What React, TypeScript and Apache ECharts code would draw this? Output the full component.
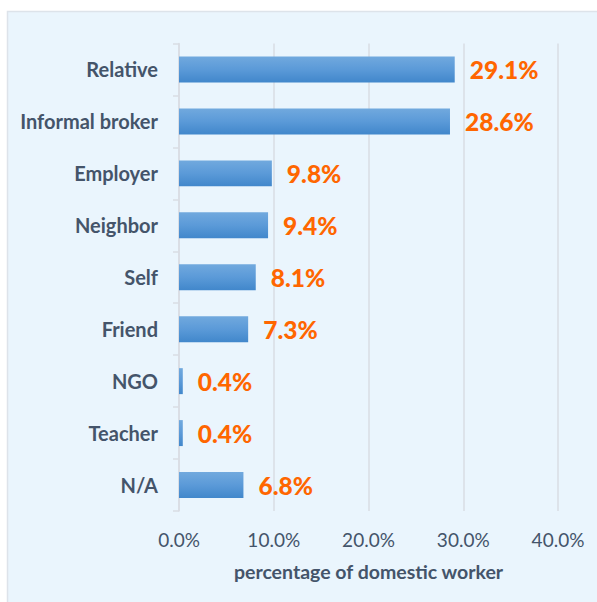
import React, { useEffect, useRef } from "react";
import * as echarts from "echarts";

const categories = ["Relative", "Informal broker", "Employer", "Neighbor", "Self", "Friend", "NGO", "Teacher", "N/A"];
const values = [29.1, 28.6, 9.8, 9.4, 8.1, 7.3, 0.4, 0.4, 6.8];
const axisName = "percentage of domestic worker";

const FONT = "Lato, 'DejaVu Sans', sans-serif";
const TEXT = "#44546a";

export default function App() {
  const ref = useRef<HTMLDivElement>(null);
  useEffect(() => {
    if (!ref.current) return;
    const chart = echarts.init(ref.current, null, { renderer: "svg" });
    chart.setOption({
      animation: false,
      backgroundColor: "#ffffff",
      graphic: [
        {
          type: "rect",
          z: -10,
          silent: true,
          shape: { x: 7.5, y: 11.5, width: 620, height: 620 },
          style: { fill: "#eaf5fd", stroke: "#dde3ea", lineWidth: 1.5 },
        },
      ],
      grid: { left: 179, right: 39, top: 43.5, bottom: 91, containLabel: false },
      xAxis: {
        type: "value",
        min: 0,
        max: 40,
        interval: 10,
        name: axisName,
        nameLocation: "middle",
        nameGap: 50,
        nameTextStyle: { color: TEXT, fontFamily: FONT, fontSize: 19.5, fontWeight: "bold" },
        axisLine: { show: false },
        axisTick: { show: false },
        axisLabel: {
          color: TEXT,
          fontFamily: FONT,
          fontSize: 19,
          margin: 19,
          formatter: (v: number) => v.toFixed(1) + "%",
        },
        splitLine: { show: true, lineStyle: { color: "#d9dde3", width: 1.5 } },
      },
      yAxis: {
        type: "category",
        data: categories,
        inverse: true,
        axisLine: { show: true, lineStyle: { color: "#d9dde3", width: 1.5 } },
        axisTick: { show: true, length: 6, lineStyle: { color: "#d9dde3", width: 1.5 } },
        axisLabel: {
          color: TEXT,
          fontFamily: FONT,
          fontSize: 20,
          fontWeight: "bold",
          margin: 21,
        },
      },
      series: [
        {
          type: "bar",
          data: values,
          barWidth: "50%",
          itemStyle: {
            color: new echarts.graphic.LinearGradient(0, 0, 0, 1, [
              { offset: 0, color: "#71a9de" },
              { offset: 0.5, color: "#5b9ad8" },
              { offset: 1, color: "#4187cb" },
            ]),
          },
          label: {
            show: true,
            position: "right",
            distance: 15,
            color: "#ff6600",
            fontFamily: FONT,
            fontSize: 24.5,
            fontWeight: 900,
            formatter: (p: any) => Number(p.value).toFixed(1) + "%",
          },
        },
      ],
    });
    return () => chart.dispose();
  }, []);
  return (
    <div
      ref={ref}
      style={{ position: "absolute", left: 0, top: 0, width: 597, height: 602 }}
    />
  );
}
